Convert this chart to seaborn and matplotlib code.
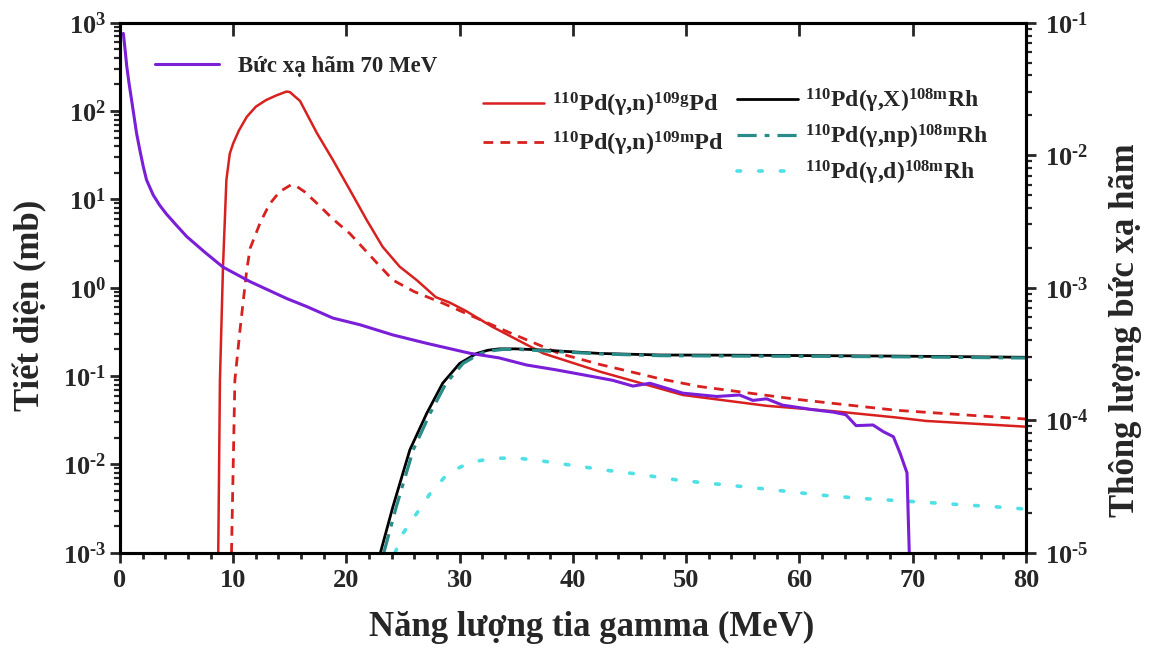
import numpy as np
import pandas as pd
import matplotlib
matplotlib.use("Agg")
import matplotlib.pyplot as plt
from matplotlib.ticker import LogLocator, NullFormatter, MultipleLocator, FuncFormatter
import seaborn as sns

# ---- cross sections (mb) versus gamma energy (MeV) ----
e_109g = [8.68, 8.83, 9.1, 9.4, 9.7, 10.0, 10.5, 11.2, 12.0, 12.9, 13.8, 14.7, 15.0, 15.9,
          17.4, 18.8, 20.3, 21.8, 23.2, 24.7, 26.2, 27.9, 29.1, 30.5, 32.9, 37.4, 42.4,
          49.7, 57.1, 63.0, 68.5, 71.2, 80.0]
s_109g = [0.001, 0.09, 1.73, 16.6, 33, 43, 60, 86, 112, 133, 150, 166, 164, 130,
          56, 28, 12.8, 5.8, 2.9, 1.73, 1.22, 0.78, 0.68, 0.55, 0.36, 0.18, 0.112,
          0.061, 0.046, 0.040, 0.034, 0.031, 0.0267]

e_109m = [9.85, 10.15, 10.6, 11.2, 11.5, 12.4, 13.2, 14.1, 15.1, 15.5, 16.3, 17.4, 18.8,
          20.3, 22.7, 24.1, 26.0, 28.6, 34.4, 38.8, 42.4, 44.7, 47.7, 51.2, 60.0, 68.5, 80.0]
s_109m = [0.001, 0.09, 0.33, 1.6, 2.8, 5.5, 8.8, 12.2, 14.6, 14.3, 12.2, 9.0, 6.0,
          4.1, 1.9, 1.22, 0.9, 0.66, 0.31, 0.18, 0.135, 0.115, 0.093, 0.076, 0.054, 0.041, 0.0326]

e_x = [23.0, 24.1, 25.6, 27.1, 28.5, 30.0, 31.5, 32.5, 33.5, 35.0, 37.3, 42.4, 47.7, 55.0,
       62.0, 68.8, 80.0]
s_x = [0.001, 0.0033, 0.0146, 0.038, 0.083, 0.139, 0.18, 0.196, 0.203, 0.203, 0.197, 0.18,
       0.173, 0.172, 0.17, 0.168, 0.163]

e_np = [23.3, 24.4, 25.9, 27.4, 28.8, 30.3, 31.8, 32.8, 33.8, 35.3, 37.3, 42.4, 47.7, 55.0,
        62.0, 68.8, 80.0]
s_np = [0.001, 0.0033, 0.0146, 0.038, 0.083, 0.139, 0.18, 0.193, 0.2, 0.2, 0.193, 0.178,
        0.17, 0.168, 0.167, 0.165, 0.16]

e_d = [24.3, 25.0, 26.3, 27.4, 29.0, 30.9, 32.9, 35.0, 37.1, 39.1, 43.2, 45.6, 49.4, 55.6,
       61.8, 65.6, 68.5, 79.0, 80.0]
s_d = [0.001, 0.00166, 0.0029, 0.0047, 0.008, 0.0105, 0.0117, 0.0118, 0.011, 0.0101, 0.0085,
       0.0078, 0.0066, 0.0055, 0.0045, 0.0041, 0.0039, 0.0032, 0.0031]

# ---- 70 MeV bremsstrahlung flux ----
e_brems = [0.3, 0.45, 0.6, 0.8, 1.03, 1.25, 1.47, 1.75, 2.06, 2.35, 2.94, 3.5, 4.1, 5.0, 5.9,
           7.5, 9.1, 11.5, 14.7, 16.5, 18.8, 21.2, 24.1, 27.1, 30.9, 33.5, 35.9, 38.5, 41.8,
           43.5, 45.3, 46.8, 49.7, 52.7, 54.7, 55.9, 57.1, 58.5, 61.2, 63.0, 64.1, 65.0, 66.5,
           67.4, 68.3, 68.9, 69.5, 69.7]
f_brems = [8.3e-2, 6.3e-2, 4.7e-2, 3.5e-2, 2.6e-2, 1.95e-2, 1.46e-2, 1.1e-2, 8.2e-3, 6.5e-3,
           5.0e-3, 4.2e-3, 3.6e-3, 2.95e-3, 2.43e-3, 1.85e-3, 1.43e-3, 1.11e-3, 8.3e-4, 7.2e-4,
           5.9e-4, 5.25e-4, 4.4e-4, 3.8e-4, 3.2e-4, 2.95e-4, 2.61e-4, 2.4e-4, 2.13e-4, 2.0e-4,
           1.81e-4, 1.9e-4, 1.6e-4, 1.51e-4, 1.55e-4, 1.41e-4, 1.45e-4, 1.3e-4, 1.2e-4, 1.15e-4,
           1.1e-4, 9.1e-5, 9.2e-5, 8.2e-5, 7.5e-5, 5.6e-5, 4.0e-5, 1.0e-5]

labels = {
    "109g": r"$^{110}$Pd(γ,n)$^{109g}$Pd",
    "109m": r"$^{110}$Pd(γ,n)$^{109m}$Pd",
    "X": r"$^{110}$Pd(γ,X)$^{108m}$Rh",
    "np": r"$^{110}$Pd(γ,np)$^{108m}$Rh",
    "d": r"$^{110}$Pd(γ,d)$^{108m}$Rh",
    "brems": "Bức xạ hãm 70 MeV",
}

sns.set_theme(style="white")
plt.rcParams.update({
    "font.family": ["Liberation Serif", "DejaVu Serif"],
    "font.weight": "bold",
    "mathtext.fontset": "custom",
    "mathtext.rm": "Liberation Serif:bold",
    "mathtext.it": "Liberation Serif:bold:italic",
    "mathtext.bf": "Liberation Serif:bold",
    "mathtext.default": "rm",
    "axes.unicode_minus": False,
    "axes.linewidth": 2.2,
})

RED = "#d8211f"
BLACK = "#000000"
TEAL = "#2a8c88"
CYAN = "#4fe0e6"
PURPLE = "#7a1ed8"

fig = plt.figure(figsize=(11.5, 6.5), dpi=100)
ax = fig.add_axes([0.1043, 0.1497, 0.7878, 0.8154])
ax.set_yscale("log")
ax2 = ax.twinx()
ax2.set_yscale("log")


def draw(axis, e, v, color, lw, dashes=None, label=None):
    df = pd.DataFrame({"E": e, "v": v})
    sns.lineplot(data=df, x="E", y="v", ax=axis, color=color, lw=lw,
                 errorbar=None, sort=False, legend=False)
    line = axis.lines[-1]
    line.set_solid_joinstyle("round")
    if dashes is not None:
        line.set_dashes(dashes)
    if label is not None:
        line.set_label(label)
    return line


l_g = draw(ax, e_109g, s_109g, RED, 1.8, label=labels["109g"])
l_m = draw(ax, e_109m, s_109m, RED, 2.0, dashes=(3.5, 2.6), label=labels["109m"])
l_x = draw(ax, e_x, s_x, BLACK, 2.0, label=labels["X"])
l_np = draw(ax, e_np, s_np, TEAL, 2.3, dashes=(6, 2.5, 1.5, 2.5), label=labels["np"])
l_d = draw(ax, e_d, s_d, CYAN, 2.6, dashes=(1.0, 5.0), label=labels["d"])
l_d.set_dash_capstyle("round")
l_b = draw(ax2, e_brems, f_brems, PURPLE, 2.2, label=labels["brems"])

# ---- axes limits and ticks ----
ax.set_xlim(0, 80)
ax.set_ylim(1e-3, 1e3)
ax2.set_ylim(1e-5, 1e-1)


def pow10(v, pos):
    k = int(round(np.log10(v)))
    if k < 0:
        return r"$\mathdefault{10^{\text{-}%d}}$" % (-k)
    return r"$\mathdefault{10^{%d}}$" % k


for a in (ax, ax2):
    a.yaxis.set_major_locator(LogLocator(base=10, numticks=20))
    a.yaxis.set_major_formatter(FuncFormatter(pow10))
    a.yaxis.set_minor_locator(LogLocator(base=10, subs=np.arange(2, 10), numticks=20))
    a.yaxis.set_minor_formatter(NullFormatter())
    a.set_xlabel("")
    a.set_ylabel("")

ax.xaxis.set_major_locator(MultipleLocator(10))
ax.xaxis.set_minor_locator(MultipleLocator(2))

ax.tick_params(axis="x", which="major", direction="out", length=7, width=2, labelsize=19,
               pad=5, top=True, bottom=True)
ax.tick_params(axis="x", which="minor", direction="out", length=4, width=2, bottom=True, top=False)
ax.tick_params(axis="y", which="major", direction="out", length=7, width=2, labelsize=19, pad=3,
               left=True, right=False)
ax.tick_params(axis="y", which="minor", direction="out", length=4, width=1.6, left=True, right=False)
ax2.tick_params(axis="y", which="major", direction="out", length=7, width=2, labelsize=19, pad=7,
                right=True, left=False)
ax2.tick_params(axis="y", which="minor", direction="out", length=4, width=1.6, right=True, left=False)

# top ticks point inward (major only)
for t in ax.xaxis.get_major_ticks():
    t.tick2line.set_marker(matplotlib.lines.TICKDOWN)
    t.tick2line.set_markersize(9)

for a in (ax, ax2):
    for s in a.spines.values():
        s.set_linewidth(2.2)
        s.set_color("black")

ax.set_xlabel("Năng lượng tia gamma (MeV)", fontsize=25, fontweight="bold")
ax.xaxis.set_label_coords(0.521, -0.11)
ax.set_ylabel("Tiết diện (mb)", fontsize=25, fontweight="bold")
ax.yaxis.set_label_coords(-0.08, 0.467)
ax2.set_ylabel("Thông lượng bức xạ hãm", fontsize=25, fontweight="bold")
ax2.yaxis.set_label_coords(1.092, 0.42)

# ---- legends ----
leg_b = ax2.legend(handles=[l_b], loc="upper left", bbox_to_anchor=(155 / 1150, 1 - 56 / 650),
                   bbox_transform=fig.transFigure, frameon=False, fontsize=16.5,
                   handlelength=2.8, handletextpad=0.8, borderpad=0, borderaxespad=0)
ax2.add_artist(leg_b)
leg_r = ax2.legend(handles=[l_g, l_m], loc="upper left", bbox_to_anchor=(483 / 1150, 1 - 91 / 650),
                   bbox_transform=fig.transFigure, frameon=False, fontsize=17.5,
                   handlelength=2.5, handletextpad=0.35, labelspacing=0.45, borderpad=0,
                   borderaxespad=0)
ax2.add_artist(leg_r)
ax2.legend(handles=[l_x, l_np, l_d], loc="upper left", bbox_to_anchor=(737 / 1150, 1 - 87 / 650),
           bbox_transform=fig.transFigure, frameon=False, fontsize=17,
           handlelength=2.6, handletextpad=0.3, labelspacing=0.33, borderpad=0,
           borderaxespad=0)

fig.savefig("out.png", dpi=100, facecolor="white")
